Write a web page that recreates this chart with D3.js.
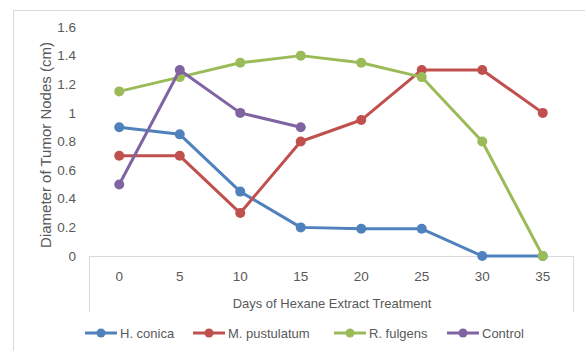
<!DOCTYPE html>
<html>
<head>
<meta charset="utf-8">
<script src="https://cdn.jsdelivr.net/npm/d3@7"></script>
<style>
  html, body { margin: 0; padding: 0; background: #fff; }
  svg { display: block; }
  text { font-family: "Liberation Sans", "DejaVu Sans", sans-serif; fill: #595959; }
</style>
</head>
<body>
<svg id="chart" width="585" height="351"></svg>
<script>
// Days of treatment (category axis)
const days = ["0", "5", "10", "15", "20", "25", "30", "35"];
// Tumor node diameter (cm) per series
const hConica = [0.9, 0.85, 0.45, 0.2, 0.19, 0.19, 0, 0];
const mPustulatum = [0.7, 0.7, 0.3, 0.8, 0.95, 1.3, 1.3, 1.0];
const rFulgens = [1.15, 1.25, 1.35, 1.4, 1.35, 1.25, 0.8, 0];
const control = [0.5, 1.3, 1.0, 0.9];
const yTicks = [0, 0.2, 0.4, 0.6, 0.8, 1, 1.2, 1.4, 1.6];
const seriesNames = ["H. conica", "M. pustulatum", "R. fulgens", "Control"];
const seriesColors = ["#4F81BD", "#C0504D", "#9BBB59", "#8064A2"];

const series = [hConica, mPustulatum, rFulgens, control].map((vals, i) => ({
  name: seriesNames[i],
  color: seriesColors[i],
  values: vals.map((v, j) => ({ day: days[j], v }))
}));

const svg = d3.select("#chart");

// outer chart frame
svg.append("rect")
  .attr("x", 13.5).attr("y", 10.5)
  .attr("width", 600).attr("height", 400)
  .attr("fill", "none").attr("stroke", "#d9d9d9");

const x = d3.scaleBand().domain(days).range([89, 573]);
const y = d3.scaleLinear().domain([0, 1.6]).range([256, 27]);

// y tick labels (no axis line, no gridlines)
svg.append("g").selectAll("text").data(yTicks).join("text")
  .attr("x", 76).attr("y", d => y(d))
  .attr("dy", "0.35em")
  .attr("text-anchor", "end")
  .style("font-size", "13.5px")
  .text(d => d);

// category axis box
const axG = svg.append("g");
axG.append("path")
  .attr("d", `M${x.range()[0] + 0.5},312V256.5H${x.range()[1] + 0.5}V312`)
  .attr("fill", "none").attr("stroke", "#d9d9d9");

axG.selectAll("text").data(days).join("text")
  .attr("x", d => x(d) + x.bandwidth() / 2)
  .attr("y", 276)
  .attr("dy", "0.35em")
  .attr("text-anchor", "middle")
  .style("font-size", "13.5px")
  .text(d => d);

// axis titles
svg.append("text")
  .attr("x", 332).attr("y", 303)
  .attr("dy", "0.35em")
  .attr("text-anchor", "middle")
  .style("font-size", "13px")
  .text("Days of Hexane Extract Treatment");

svg.append("text")
  .attr("transform", "translate(46,145) rotate(-90)")
  .attr("dy", "0.35em")
  .attr("text-anchor", "middle")
  .style("font-size", "15px")
  .text("Diameter of Tumor Nodes (cm)");

// series lines and markers
const line = d3.line()
  .x(d => x(d.day) + x.bandwidth() / 2)
  .y(d => y(d.v));

const sg = svg.append("g").selectAll("g").data(series).join("g");
sg.append("path")
  .attr("d", d => line(d.values))
  .attr("fill", "none")
  .attr("stroke", d => d.color)
  .attr("stroke-width", 3)
  .attr("stroke-linejoin", "round");
sg.each(function (s) {
  d3.select(this).selectAll("circle").data(s.values).join("circle")
    .attr("cx", d => x(d.day) + x.bandwidth() / 2)
    .attr("cy", d => y(d.v))
    .attr("r", 5)
    .attr("fill", s.color);
});

// legend
const legendX = [85, 193, 334, 447];
const lg = svg.append("g").selectAll("g").data(series).join("g")
  .attr("transform", (d, i) => `translate(${legendX[i]},333)`);
lg.append("line")
  .attr("x1", 0).attr("x2", 32)
  .attr("stroke", d => d.color).attr("stroke-width", 3);
lg.append("circle")
  .attr("cx", 16).attr("r", 4.5)
  .attr("fill", d => d.color);
lg.append("text")
  .attr("x", 35).attr("dy", "0.35em")
  .style("font-size", "13px")
  .text(d => d.name);
</script>
</body>
</html>
